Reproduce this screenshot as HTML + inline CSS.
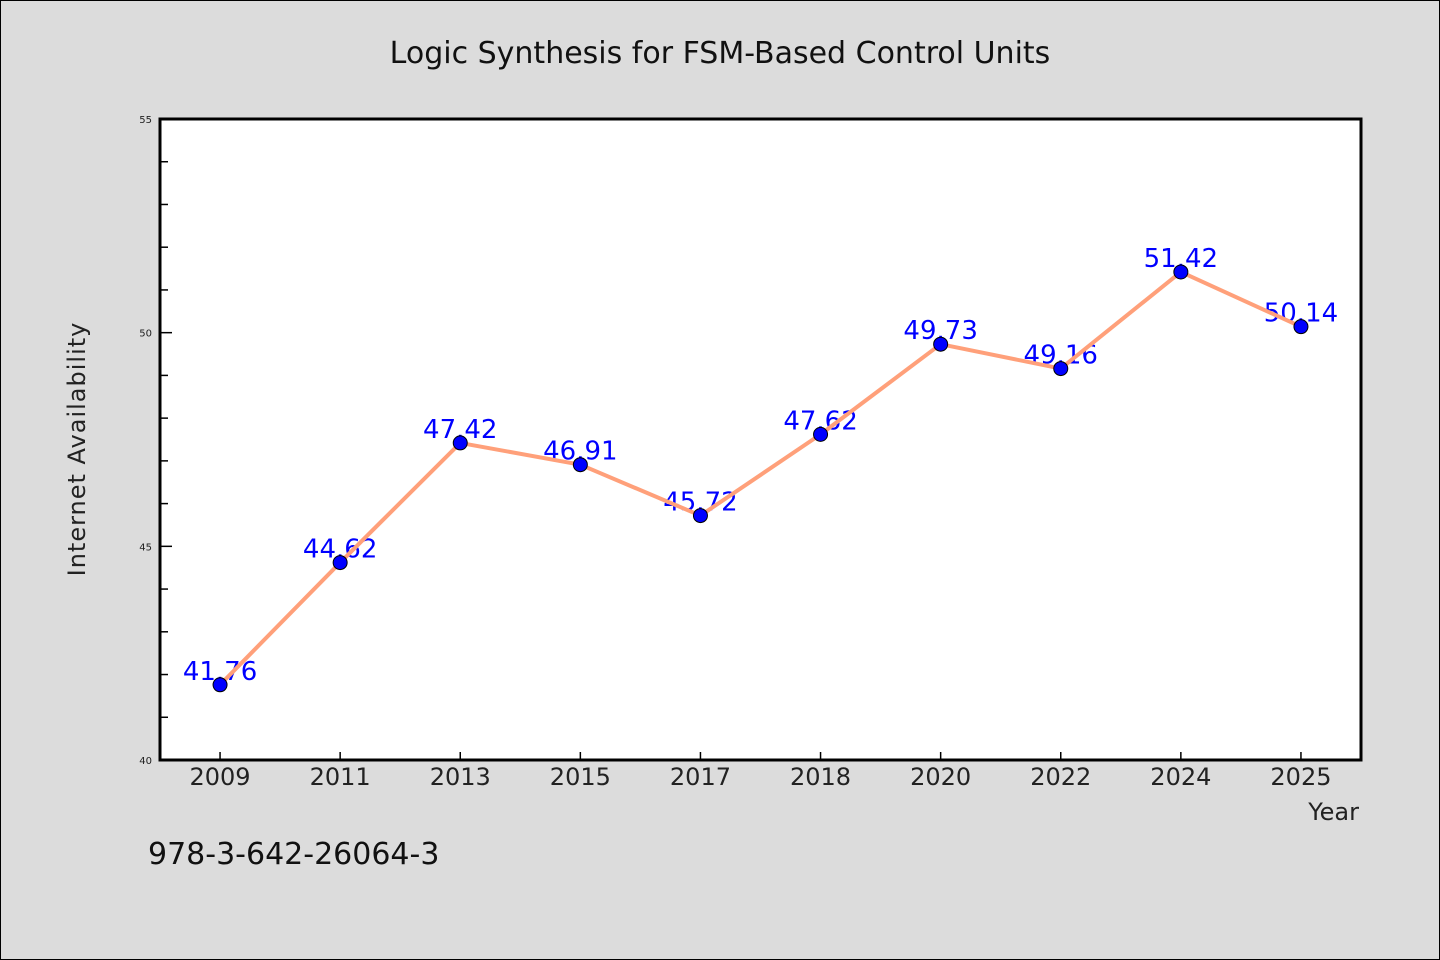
<!DOCTYPE html>
<html><head><meta charset="utf-8"><style>
html,body{margin:0;padding:0;background:#dcdcdc;}
svg{display:block;font-family:"WenQuanYi Zen Hei","DejaVu Sans",sans-serif;}
</style></head><body>
<svg id="chart" width="1440" height="960">
<rect x="0.5" y="0.5" width="1439" height="959" fill="#dcdcdc" stroke="#000"/>
<text x="720" y="63" text-anchor="middle" font-size="30" fill="#111">Logic Synthesis for FSM-Based Control Units</text>
<rect x="160" y="119" width="1201" height="641" fill="#fff"/>
<g id="yticks"></g><g id="xticks"></g>
<g id="series"></g>
<path d="M160,119 V760 H1361 V119 Z" fill="none" stroke="#000" stroke-width="3"/>
<text x="85" y="449" text-anchor="middle" font-size="24" fill="#222" transform="rotate(-90 85 449)" letter-spacing="1">Internet Availability</text>
<text x="1359" y="820" text-anchor="end" font-size="24" fill="#222">Year</text>
<text x="148" y="864" font-size="30" fill="#111">978-3-642-26064-3</text>
</svg>
<script>
const categories=["2009","2011","2013","2015","2017","2018","2020","2022","2024","2025"];
const values=[41.76,44.62,47.42,46.91,45.72,47.62,49.73,49.16,51.42,50.14];
const labels=["41.76","44.62","47.42","46.91","45.72","47.62","49.73","49.16","51.42","50.14"];
const yTicks=[40,45,50,55];
const yMin=40,yMax=55;
const NS="http://www.w3.org/2000/svg";
const L=160,R=1361,T=119,B=760;
const band=(R-L)/categories.length;
function x(i){return L+band*(i+0.5);}
function y(v){return B-(v-yMin)/(yMax-yMin)*(B-T);}
function mk(t,a,p){const e=document.createElementNS(NS,t);for(const k in a)e.setAttribute(k,a[k]);p.appendChild(e);return e;}
const yt=document.getElementById('yticks'),xt=document.getElementById('xticks'),s=document.getElementById('series');
for(let v=yMin;v<=yMax;v++){
  const major=yTicks.includes(v);
  const l=mk('line',{x1:L,x2:L+(major?12:8),y1:y(v),y2:y(v),stroke:'#000','stroke-width':1.5},yt);
  
  
}
yTicks.forEach(v=>{
  const t=mk('text',{x:L-8,y:y(v)+4,'text-anchor':'end','font-size':10,fill:'#222'},yt);
  t.textContent=v;
  
  
});
categories.forEach((c,i)=>{
  const l=mk('line',{x1:x(i),x2:x(i),y1:B,y2:B-8,stroke:'#000','stroke-width':1.5},xt);
  
  
  const t=mk('text',{x:x(i),y:B+25,'text-anchor':'middle','font-size':24,fill:'#222'},xt);
  t.textContent=c;
  
  
});
values.forEach((v,i)=>{
  const t=mk('text',{x:x(i),y:y(v)-5,'text-anchor':'middle','font-size':26,fill:'#0000ff'},s);
  t.textContent=labels[i];
  
  
});
const line=mk('polyline',{points:values.map((v,i)=>x(i)+','+y(v)).join(' '),fill:'none',stroke:'#ffa07a','stroke-width':4,'stroke-linejoin':'round'},s);


values.forEach((v,i)=>{
  const c=mk('circle',{cx:x(i),cy:y(v),r:7,fill:'#0000ff',stroke:'#000','stroke-width':1},s);
  
  
});
</script>
</body></html>
